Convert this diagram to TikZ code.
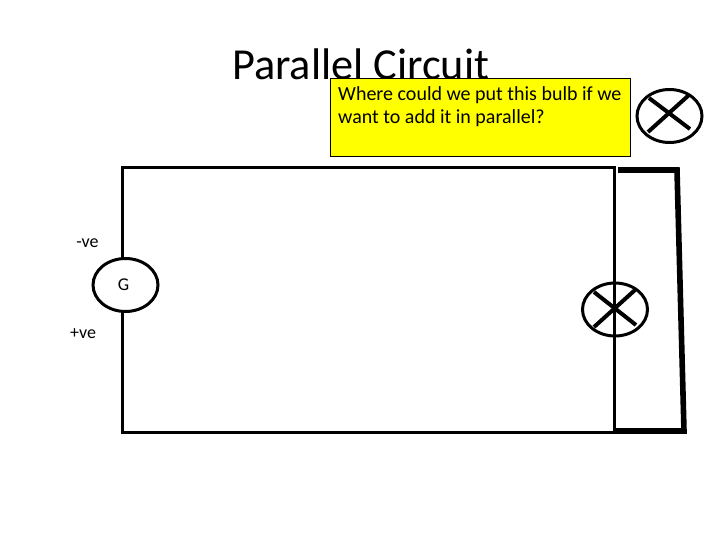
\documentclass[tikz,border=0pt]{standalone}
\usepackage{fontspec}
\setmainfont{Carlito}
\usetikzlibrary{shapes.geometric}
\definecolor{noteyellow}{RGB}{255,255,0}
\tikzset{
  wire/.style={line width=3pt,line join=miter},
  thickwire/.style={line width=5.6pt,line join=miter},
  oval/.style={draw,ellipse,line width=3pt,minimum width=65pt,minimum height=53pt,inner sep=0pt},
  bulbcross/.style={line width=4pt},
  label/.style={inner sep=0pt,font=\fontsize{18}{20}\selectfont},
  note/.style={draw,line width=1pt,fill=noteyellow,minimum width=300pt,minimum height=78pt,inner sep=0pt}
}
\begin{document}
\begin{tikzpicture}[x=1pt,y=-1pt]
\useasboundingbox (0,0) rectangle (720,540);
\fill[white] (0,0) rectangle (720,540);
\coordinate (tl) at (122,168);
\coordinate (tr) at (614,168);
\coordinate (bl) at (122,432);
\coordinate (br) at (614,432);
\coordinate (ptl) at (618,170);
\coordinate (ptr) at (677,170);
\coordinate (pbr) at (684,431);
\coordinate (pbl) at (613,431);
\node[oval] (gen) at (125.5,285) {};
\node[label] (glabel) at (123.5,285) {G};
\node[label] (neg) at (87.5,243.5) {-ve};
\node[label] (pos) at (83,333.5) {+ve};
\draw[wire] (gen.north -| tl) -- (tl) -- (tr) -- (br) -- (bl) -- (gen.south -| bl);
\draw[thickwire] (ptl) -- (ptr) -- (pbr) -- (pbl);
\node[oval] (bulbb) at (615,309.5) {};
\draw[bulbcross] (594,292) -- (636,325);
\draw[bulbcross] (594,327) -- (635,290);
\node[anchor=base west,inner sep=0pt,font=\fontsize{44.3}{48}\selectfont] (title) at (232,80) {Parallel Circuit};
\node[note] (box) at (480.5,117.5) {};
\node[anchor=north west,inner sep=0pt,align=left,font=\fontsize{20}{23.5}\selectfont] (q) at (338,86) {Where could we put this bulb if we\\want to add it in parallel?};
\node[oval] (bulba) at (669.5,116) {};
\draw[bulbcross] (649,98) -- (690,129);
\draw[bulbcross] (648,132) -- (689,95);
\end{tikzpicture}
\end{document}
